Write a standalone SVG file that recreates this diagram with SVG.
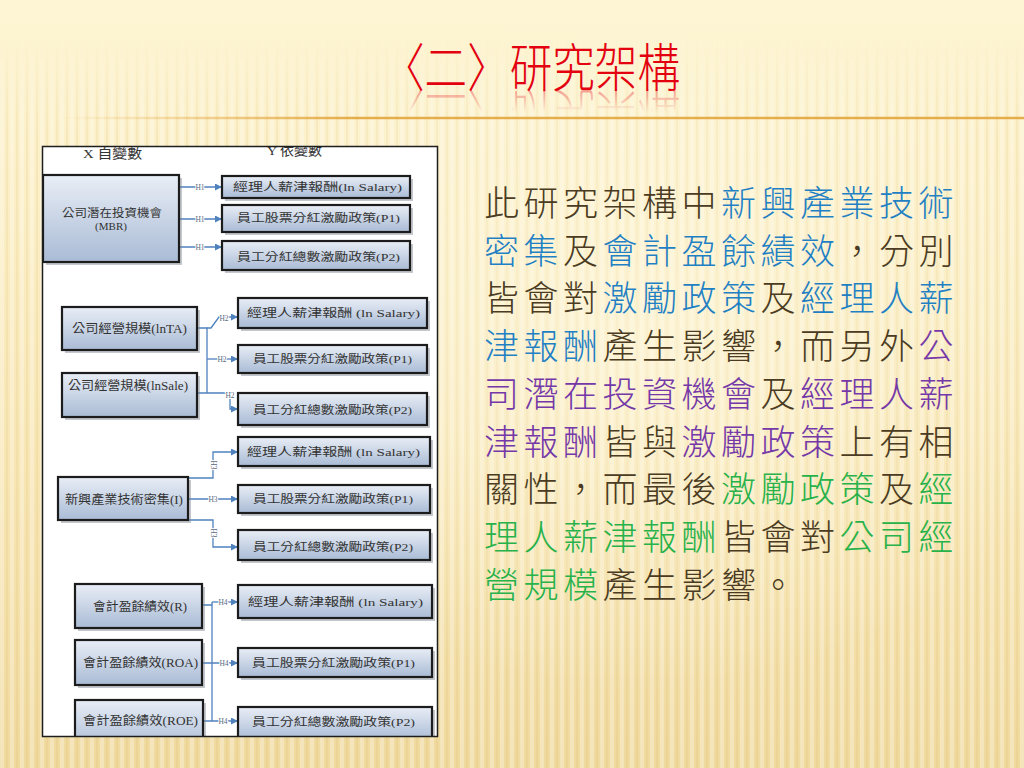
<svg xmlns="http://www.w3.org/2000/svg" xmlns:xlink="http://www.w3.org/1999/xlink" width="1024" height="768" viewBox="0 0 1024 768">
<defs>
  <linearGradient id="bgGrad" x1="0" y1="0" x2="0" y2="1">
    <stop offset="0" stop-color="#fdf5d4"/>
    <stop offset="0.25" stop-color="#fcefc6"/>
    <stop offset="0.6" stop-color="#f8e6b4"/>
    <stop offset="1" stop-color="#f0d99d"/>
  </linearGradient>
  <radialGradient id="glow" cx="0.62" cy="0.45" r="0.45">
    <stop offset="0" stop-color="#fffbe8" stop-opacity="0.55"/>
    <stop offset="1" stop-color="#fffbe8" stop-opacity="0"/>
  </radialGradient>
  <pattern id="stripes" width="10" height="20" patternUnits="userSpaceOnUse">
    <rect x="0" y="0" width="4" height="20" fill="#ffffff" opacity="0.3"/>
    <rect x="6" y="0" width="2" height="20" fill="#c9a75a" opacity="0.1"/>
  </pattern>
  <linearGradient id="fadeTop" x1="0" y1="0" x2="0" y2="1">
    <stop offset="0" stop-color="#000"/>
    <stop offset="0.05" stop-color="#000"/>
    <stop offset="0.16" stop-color="#fff"/>
    <stop offset="1" stop-color="#fff"/>
  </linearGradient>
  <mask id="stripeMask" maskUnits="userSpaceOnUse" x="0" y="0" width="1024" height="768">
    <rect width="1024" height="768" fill="url(#fadeTop)"/>
  </mask>
  <linearGradient id="rule" x1="60" y1="0" x2="1024" y2="0" gradientUnits="userSpaceOnUse">
    <stop offset="0" stop-color="#e3a53c" stop-opacity="0"/>
    <stop offset="0.3" stop-color="#e3a53c" stop-opacity="0.9"/>
    <stop offset="1" stop-color="#e3a53c" stop-opacity="0.9"/>
  </linearGradient>
  <linearGradient id="refl" x1="0" y1="90" x2="0" y2="112" gradientUnits="userSpaceOnUse">
    <stop offset="0" stop-color="#fff" stop-opacity="0.5"/>
    <stop offset="1" stop-color="#fff" stop-opacity="0"/>
  </linearGradient>
  <mask id="reflMask" maskUnits="userSpaceOnUse" x="0" y="89" width="1024" height="30">
    <rect x="0" y="89" width="1024" height="30" fill="url(#refl)"/>
  </mask>
  <linearGradient id="boxFill" x1="0" y1="0" x2="0" y2="1">
    <stop offset="0" stop-color="#e9eef6"/>
    <stop offset="1" stop-color="#a9bbd5"/>
  </linearGradient>
  <clipPath id="panelClip">
    <rect x="42" y="146" width="396" height="591"/>
  </clipPath>
  <marker id="arr" viewBox="0 0 8 8" refX="8" refY="4" markerWidth="7" markerHeight="7" markerUnits="userSpaceOnUse" orient="auto">
    <path d="M0,0 L8,4 L0,8 z" fill="#4f81bd"/>
  </marker>
  <style>
    .box{fill:url(#boxFill);stroke:#1c1c1c;stroke-width:2.2}
    .sh{fill:#7d8590;opacity:0.45}
    .bt{font-family:"Liberation Serif","Noto Sans CJK TC",serif;font-size:11px;fill:#333}
    .lt{font-family:"Liberation Serif","Noto Sans CJK TC",serif;font-size:12.5px;fill:#333}
    .hd{font-family:"Liberation Serif","Noto Sans CJK TC",serif;font-size:13px;fill:#333}
    .cn{fill:none;stroke:#4f81bd;stroke-width:1.3}
    .ar{marker-end:url(#arr)}
    .hl{font-family:"Liberation Serif",serif;font-size:7.5px;fill:#5a6b80;stroke:#fff;stroke-width:2;paint-order:stroke}
    .para{font-family:"Noto Sans CJK TC","Noto Sans CJK SC",sans-serif;font-size:35px;font-weight:300;letter-spacing:4.5px;fill:#4a3b22}
    .b{fill:#1f80c4}
    .p{fill:#7438a8}
    .g{fill:#27b24a}
  </style>
</defs>

<!-- background -->
<rect width="1024" height="768" fill="url(#bgGrad)"/>
<rect width="1024" height="768" fill="url(#stripes)" mask="url(#stripeMask)"/>
<rect width="1024" height="768" fill="url(#glow)"/>

<!-- title -->
<g id="title">
  <text id="titleText" x="382" y="87" font-family="'Noto Sans CJK TC','Noto Sans CJK SC',sans-serif" font-size="52" font-weight="300" fill="#e3000f" textLength="298" lengthAdjust="spacingAndGlyphs">〈二〉研究架構</text>
  <g mask="url(#reflMask)">
    <use xlink:href="#titleText" href="#titleText" transform="translate(0,180) scale(1,-1)" opacity="0.7"/>
  </g>
</g>
<line x1="60" y1="118" x2="1024" y2="118" stroke="url(#rule)" stroke-width="2.5"/>

<!-- diagram panel -->
<g id="panel">
  <rect x="42" y="146" width="396" height="591" fill="#ffffff"/>
</g>

<g clip-path="url(#panelClip)">
  <g id="axis-labels">
    <text class="hd" x="83" y="158" textLength="59" lengthAdjust="spacingAndGlyphs">X 自變數</text>
    <text class="hd" x="267" y="155" textLength="55" lengthAdjust="spacingAndGlyphs">Y 依變數</text>
  </g>

  <!-- connectors -->
  <g id="connectors">
    <path class="cn ar" d="M179,187 H222"/>
    <path class="cn ar" d="M179,219 H222"/>
    <path class="cn ar" d="M179,247 H222"/>
    <text class="hl" x="200" y="189.5" text-anchor="middle">H1</text>
    <text class="hl" x="200" y="221.5" text-anchor="middle">H1</text>
    <text class="hl" x="200" y="249.5" text-anchor="middle">H1</text>

    <path class="cn" d="M197,328 H207 V393"/>
    <path class="cn ar" d="M207,328 H211 L219,317 H238"/>
    <path class="cn ar" d="M207,359 H238"/>
    <path class="cn ar" d="M197,393 H230 V409 H238"/>
    <text class="hl" x="224" y="321" text-anchor="middle">H2</text>
    <text class="hl" x="222" y="361.5" text-anchor="middle">H2</text>
    <text class="hl" x="230" y="398" text-anchor="middle">H2</text>

    <path class="cn ar" d="M188,478 H213 V452 H238"/>
    <path class="cn ar" d="M188,499 H238"/>
    <path class="cn ar" d="M188,520 H213 V547 H238"/>
    <text class="hl" transform="translate(210.5,465) rotate(90)" text-anchor="middle">H3</text>
    <text class="hl" x="213" y="501.5" text-anchor="middle">H3</text>
    <text class="hl" transform="translate(210.5,533) rotate(90)" text-anchor="middle">H3</text>

    <path class="cn" d="M202,605 H212 V721"/>
    <path class="cn ar" d="M212,602 H238"/>
    <path class="cn" d="M212,602 V605"/>
    <path class="cn ar" d="M202,663 H238"/>
    <path class="cn ar" d="M203,721 H238"/>
    <text class="hl" x="223" y="604.5" text-anchor="middle">H4</text>
    <text class="hl" x="224" y="665.5" text-anchor="middle">H4</text>
    <text class="hl" x="223" y="723.5" text-anchor="middle">H4</text>
  </g>

  <!-- section 1 -->
  <g id="n-mbr">
    <rect class="sh" x="46" y="178" width="136" height="87"/>
    <rect class="box" x="43" y="175" width="136" height="87"/>
    <text class="bt" x="62" y="217" textLength="100" lengthAdjust="spacingAndGlyphs">公司潛在投資機會</text>
    <text class="bt" x="111" y="230" text-anchor="middle">(MBR)</text>
  </g>
  <g id="n-h1-salary">
    <rect class="sh" x="225" y="179" width="188" height="22"/>
    <rect class="box" x="222" y="176" width="188" height="22"/>
    <text class="bt" x="233" y="191" textLength="169" lengthAdjust="spacingAndGlyphs">經理人薪津報酬(ln Salary)</text>
  </g>
  <g id="n-h1-p1">
    <rect class="sh" x="225" y="208" width="188" height="27"/>
    <rect class="box" x="222" y="205" width="188" height="27"/>
    <text class="bt" x="237" y="222" textLength="163" lengthAdjust="spacingAndGlyphs">員工股票分紅激勵政策(P1)</text>
  </g>
  <g id="n-h1-p2">
    <rect class="sh" x="225" y="244" width="188" height="29"/>
    <rect class="box" x="222" y="241" width="188" height="29"/>
    <text class="bt" x="237" y="261" textLength="163" lengthAdjust="spacingAndGlyphs">員工分紅總數激勵政策(P2)</text>
  </g>

  <!-- section 2 -->
  <g id="n-lnta">
    <rect class="sh" x="65" y="310" width="135" height="43"/>
    <rect class="box" x="62" y="307" width="135" height="43"/>
    <text class="lt" x="72" y="333" textLength="115" lengthAdjust="spacingAndGlyphs">公司經營規模(lnTA)</text>
  </g>
  <g id="n-lnsale">
    <rect class="sh" x="65" y="376" width="135" height="44"/>
    <rect class="box" x="62" y="373" width="135" height="44"/>
    <text class="lt" x="68" y="390" textLength="120" lengthAdjust="spacingAndGlyphs">公司經營規模(lnSale)</text>
  </g>
  <g id="n-h2-salary">
    <rect class="sh" x="241" y="301" width="189" height="30"/>
    <rect class="box" x="238" y="298" width="189" height="30"/>
    <text class="bt" x="247" y="317" textLength="173" lengthAdjust="spacingAndGlyphs">經理人薪津報酬 (ln Salary)</text>
  </g>
  <g id="n-h2-p1">
    <rect class="sh" x="241" y="348" width="189" height="28"/>
    <rect class="box" x="238" y="345" width="189" height="28"/>
    <text class="bt" x="253" y="363" textLength="159" lengthAdjust="spacingAndGlyphs">員工股票分紅激勵政策(P1)</text>
  </g>
  <g id="n-h2-p2">
    <rect class="sh" x="241" y="396" width="189" height="32"/>
    <rect class="box" x="238" y="393" width="189" height="32"/>
    <text class="bt" x="253" y="414" textLength="159" lengthAdjust="spacingAndGlyphs">員工分紅總數激勵政策(P2)</text>
  </g>

  <!-- section 3 -->
  <g id="n-i">
    <rect class="sh" x="61" y="480" width="130" height="43"/>
    <rect class="box" x="58" y="477" width="130" height="43"/>
    <text class="lt" x="65" y="504" textLength="118" lengthAdjust="spacingAndGlyphs">新興產業技術密集(I)</text>
  </g>
  <g id="n-h3-salary">
    <rect class="sh" x="241" y="440" width="192" height="29"/>
    <rect class="box" x="238" y="437" width="192" height="29"/>
    <text class="bt" x="247" y="456" textLength="173" lengthAdjust="spacingAndGlyphs">經理人薪津報酬 (ln Salary)</text>
  </g>
  <g id="n-h3-p1">
    <rect class="sh" x="241" y="488" width="192" height="28"/>
    <rect class="box" x="238" y="485" width="192" height="28"/>
    <text class="bt" x="253" y="503" textLength="160" lengthAdjust="spacingAndGlyphs">員工股票分紅激勵政策(P1)</text>
  </g>
  <g id="n-h3-p2">
    <rect class="sh" x="241" y="533" width="192" height="30"/>
    <rect class="box" x="238" y="530" width="192" height="30"/>
    <text class="bt" x="253" y="551" textLength="160" lengthAdjust="spacingAndGlyphs">員工分紅總數激勵政策(P2)</text>
  </g>

  <!-- section 4 -->
  <g id="n-r">
    <rect class="sh" x="78" y="587" width="127" height="44"/>
    <rect class="box" x="75" y="584" width="127" height="44"/>
    <text class="lt" x="93" y="611" textLength="94" lengthAdjust="spacingAndGlyphs">會計盈餘績效(R)</text>
  </g>
  <g id="n-roa">
    <rect class="sh" x="78" y="643" width="127" height="45"/>
    <rect class="box" x="75" y="640" width="127" height="45"/>
    <text class="lt" x="83" y="667" textLength="115" lengthAdjust="spacingAndGlyphs">會計盈餘績效(ROA)</text>
  </g>
  <g id="n-roe">
    <rect class="sh" x="78" y="703" width="128" height="50"/>
    <rect class="box" x="75" y="700" width="128" height="50"/>
    <text class="lt" x="83" y="725" textLength="115" lengthAdjust="spacingAndGlyphs">會計盈餘績效(ROE)</text>
  </g>
  <g id="n-h4-salary">
    <rect class="sh" x="241" y="588" width="194" height="33"/>
    <rect class="box" x="238" y="585" width="194" height="33"/>
    <text class="bt" x="248" y="606" textLength="175" lengthAdjust="spacingAndGlyphs">經理人薪津報酬 (ln Salary)</text>
  </g>
  <g id="n-h4-p1">
    <rect class="sh" x="241" y="651" width="194" height="29"/>
    <rect class="box" x="238" y="648" width="194" height="29"/>
    <text class="bt" x="252" y="667" textLength="163" lengthAdjust="spacingAndGlyphs">員工股票分紅激勵政策(P1)</text>
  </g>
  <g id="n-h4-p2">
    <rect class="sh" x="241" y="710" width="194" height="34"/>
    <rect class="box" x="238" y="707" width="194" height="34"/>
    <text class="bt" x="252" y="726" textLength="163" lengthAdjust="spacingAndGlyphs">員工分紅總數激勵政策(P2)</text>
  </g>
</g>

<!-- panel border -->
<rect x="42.5" y="146.5" width="395" height="590" fill="none" stroke="#1e1e1e" stroke-width="1.5"/>

<!-- paragraph -->
<g id="paragraph" class="para">
  <text x="484" y="216">此研究架構中<tspan class="b">新興產業技術</tspan></text>
  <text x="484" y="264"><tspan class="b">密集</tspan>及<tspan class="b">會計盈餘績效</tspan>，分別</text>
  <text x="484" y="311"><tspan>皆會對</tspan><tspan class="b">激勵政策</tspan>及<tspan class="b">經理人薪</tspan></text>
  <text x="484" y="359"><tspan class="b">津報酬</tspan>產生影響，而另外<tspan class="p">公</tspan></text>
  <text x="484" y="407"><tspan class="p">司潛在投資機會</tspan>及<tspan class="p">經理人薪</tspan></text>
  <text x="484" y="455"><tspan class="p">津報酬</tspan>皆與<tspan class="p">激勵政策</tspan>上有相</text>
  <text x="484" y="502">關性，而最後<tspan class="g">激勵政策</tspan>及<tspan class="g">經</tspan></text>
  <text x="484" y="550"><tspan class="g">理人薪津報酬</tspan>皆會對<tspan class="g">公司經</tspan></text>
  <text x="484" y="598"><tspan class="g">營規模</tspan>產生影響。</text>
</g>
</svg>
